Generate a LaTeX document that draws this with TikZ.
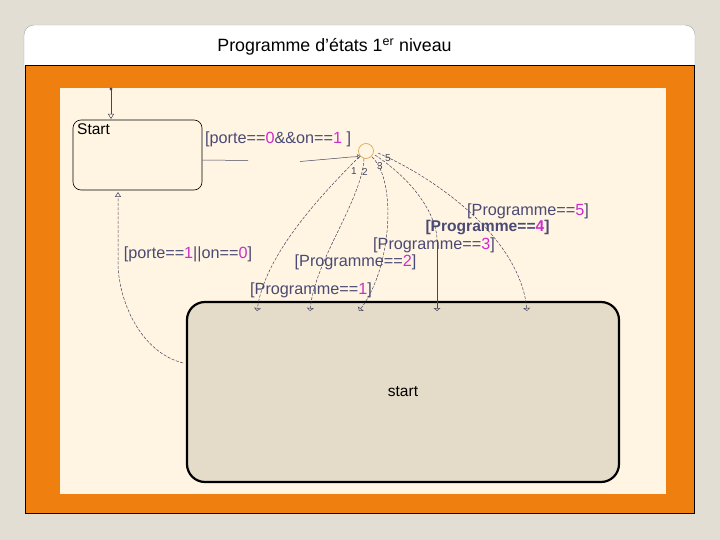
\documentclass[tikz,border=0pt]{standalone}
\usepackage{fontspec}
\setmainfont{Liberation Sans}
\usetikzlibrary{arrows.meta}
\definecolor{bg}{HTML}{E2DED3}
\definecolor{orangeP}{HTML}{EF7F0E}
\definecolor{creamP}{HTML}{FFF5E2}
\definecolor{stateF}{HTML}{E4DCC9}
\definecolor{lbl}{HTML}{4A4A74}
\definecolor{mag}{HTML}{CC2ECC}
\definecolor{conn}{HTML}{45455F}
\definecolor{junc}{HTML}{D9A048}
\newcommand\dg[1]{\textcolor{mag}{#1}}
\begin{document}
\begin{tikzpicture}[x=1pt,y=-1pt,
  lab/.style={text=lbl,font=\fontsize{16.2}{18}\selectfont,inner sep=0pt},
  num/.style={text=conn,font=\fontsize{10}{11}\selectfont,inner sep=0pt},
  tr/.style={draw=conn,line width=0.5pt},
  trd/.style={draw=conn,line width=0.5pt,dash pattern=on 3pt off 1.5pt},
  tip/.style={-{Triangle[open,length=5pt,width=6pt]}},
  smalltip/.style={-{Triangle[open,length=3pt,width=7pt]}},
  jtip/.style={-{Triangle[open,length=3pt,width=5pt]}}]
\useasboundingbox (0,0) rectangle (720,540);
\fill[bg] (0,0) rectangle (720,540);
% title panel
\draw[fill=white,draw=gray!70,rounded corners=10pt] (24,66) -- (24,25) -- (695,25) -- (695,66);
\node[font=\fontsize{17.8}{20}\selectfont] (title) at (334.5,47) {Programme d’états 1\textsuperscript{er} niveau};
% orange and cream panels
\draw[fill=orangeP,draw=black,line width=0.8pt] (25,65) rectangle (694,513);
\fill[creamP] (60,88) rectangle (666,494);
% states
\node[draw=black,line width=0.6pt,rounded corners=8pt,minimum width=129pt,minimum height=70pt,inner sep=0pt] (Start) at (137.5,155) {};
\node[anchor=north west,font=\fontsize{15.5}{17}\selectfont,inner sep=0pt] (startlab) at (77,123) {Start};
\node[draw=black,fill=stateF,line width=2.2pt,rounded corners=18pt,minimum width=432pt,minimum height=180pt,inner sep=0pt,font=\fontsize{15.5}{18}\selectfont] (big) at (403,392) {start};
% junction
\node[circle,draw=junc,line width=0.6pt,minimum size=15pt,inner sep=0pt] (J) at (366,151) {};
% default transition
\coordinate (d0) at (111,89);
\coordinate (d1) at (111,119);
\fill[conn] (d0) circle (1.6pt);
\draw[tr,tip] (d0) -- (d1);
% Start -> junction
\coordinate (s0) at (202.5,160);
\coordinate (s1) at (248,160.5);
\coordinate (s2) at (300,161.5);
\draw[tr] (s0) -- (s1);
\draw[tr,jtip] (s2) -- (340,158) .. controls (350,157) .. (J.south west);
\node[lab,anchor=west] (l0) at (205,139) {[porte==\dg{0}\&\&on==\dg{1} ]};
% junction -> big state
\coordinate (e1) at (257,311);
\coordinate (e2) at (310,311);
\coordinate (e3) at (359,311);
\coordinate (e4) at (437,311);
\coordinate (e5) at (527,311);
\draw[trd,smalltip] (359,157) .. controls (320,196) and (265,255) .. (e1);
\draw[trd,smalltip] (364,158.5) .. controls (362,200) and (315,260) .. (e2);
\draw[trd,smalltip] (372,157) .. controls (397,180) and (392,268) .. (e3);
\draw[trd] (375,155) .. controls (420,185) and (437,220) .. (437,240);
\draw[tr,smalltip] (437,240) -- (e4);
\draw[trd,smalltip] (378,153) .. controls (440,180) and (520,240) .. (e5);
\node[num] (n1) at (354,171) {1};
\node[num] (n2) at (365,172) {2};
\node[num] (n3) at (380,166) {3};
\node[num] (n5) at (388,158) {5};
\node[lab] (p1) at (311,290) {[Programme==\dg{1}]};
\node[lab] (p2) at (355.5,262) {[Programme==\dg{2}]};
\node[lab] (p3) at (434,245) {[Programme==\dg{3}]};
\node[lab,font=\fontsize{15.6}{17}\selectfont\bfseries] (p4) at (487.5,228) {[Programme==\dg{4}]};
\node[lab] (p5) at (528,211) {[Programme==\dg{5}]};
% big state -> Start
\coordinate (b0) at (183,363);
\coordinate (b1) at (118,192);
\draw[trd,tip] (b0) .. controls (140,352) and (118,300) .. (118,262) -- (b1);
\node[lab] (l1) at (188,254) {[porte==\dg{1}||on==\dg{0}]};
\end{tikzpicture}
\end{document}
